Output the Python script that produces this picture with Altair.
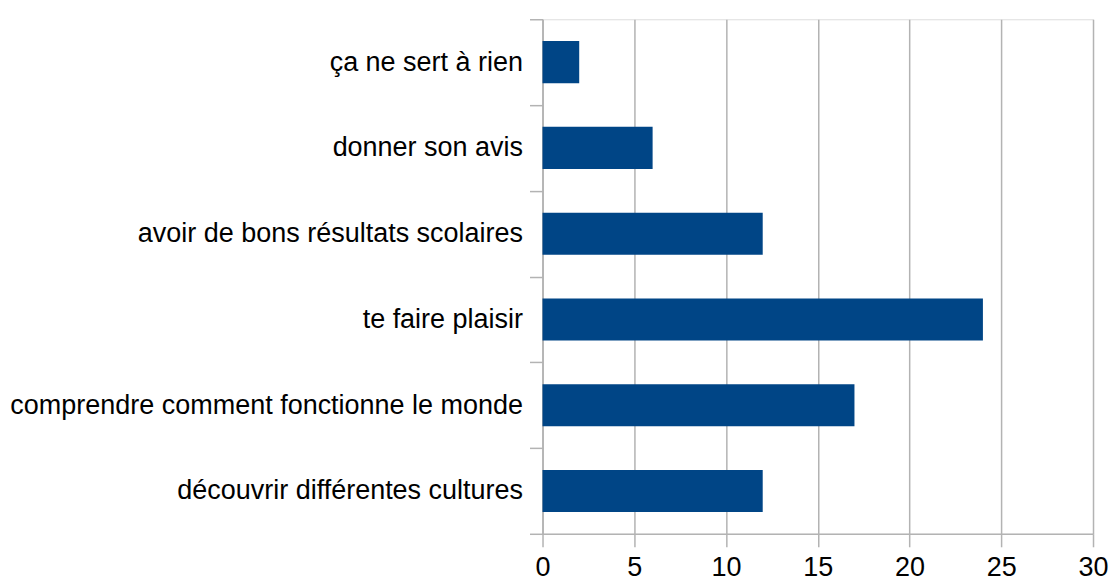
import altair as alt
import pandas as pd

categories = [
    "ça ne sert à rien",
    "donner son avis",
    "avoir de bons résultats scolaires",
    "te faire plaisir",
    "comprendre comment fonctionne le monde",
    "découvrir différentes cultures",
]
values = [2, 6, 12, 24, 17, 12]
x_ticks = [0, 5, 10, 15, 20, 25, 30]

df = pd.DataFrame({"cat": categories, "val": values})

GRID = "#b3b3b3"
FONT = "Liberation Sans"

chart = (
    alt.Chart(df)
    .mark_bar(color="#004586", height=alt.RelativeBandSize(0.49))
    .encode(
        x=alt.X(
            "val:Q",
            scale=alt.Scale(domain=[0, 30], nice=False),
            axis=alt.Axis(
                values=x_ticks,
                title=None,
                grid=True,
                gridColor=GRID,
                gridWidth=1.5,
                domainColor=GRID,
                domainWidth=1.5,
                tickColor=GRID,
                tickWidth=1.5,
                tickSize=13,
                labelPadding=8,
                labelFlush=False,
                labelFont=FONT,
                labelFontSize=27,
                labelColor="#000000",
            ),
        ),
        y=alt.Y(
            "cat:N",
            sort=categories,
            scale=alt.Scale(paddingInner=0, paddingOuter=0),
            axis=alt.Axis(
                title=None,
                grid=False,
                tickBand="extent",
                domainColor=GRID,
                domainWidth=1.5,
                tickColor=GRID,
                tickWidth=1.5,
                tickSize=13,
                labelPadding=7,
                labelLimit=0,
                labelFont=FONT,
                labelFontSize=27,
                labelColor="#000000",
            ),
        ),
    )
    .properties(
        width=551,
        height=515,
        autosize=alt.AutoSizeParams(type="none"),
        padding={"left": 535, "top": 11, "right": 16, "bottom": 50},
    )
    .configure_view(stroke=GRID, strokeWidth=1.5)
    .configure(background="white")
)

chart.save("out.html", embed_options={"renderer": "svg", "actions": False})
